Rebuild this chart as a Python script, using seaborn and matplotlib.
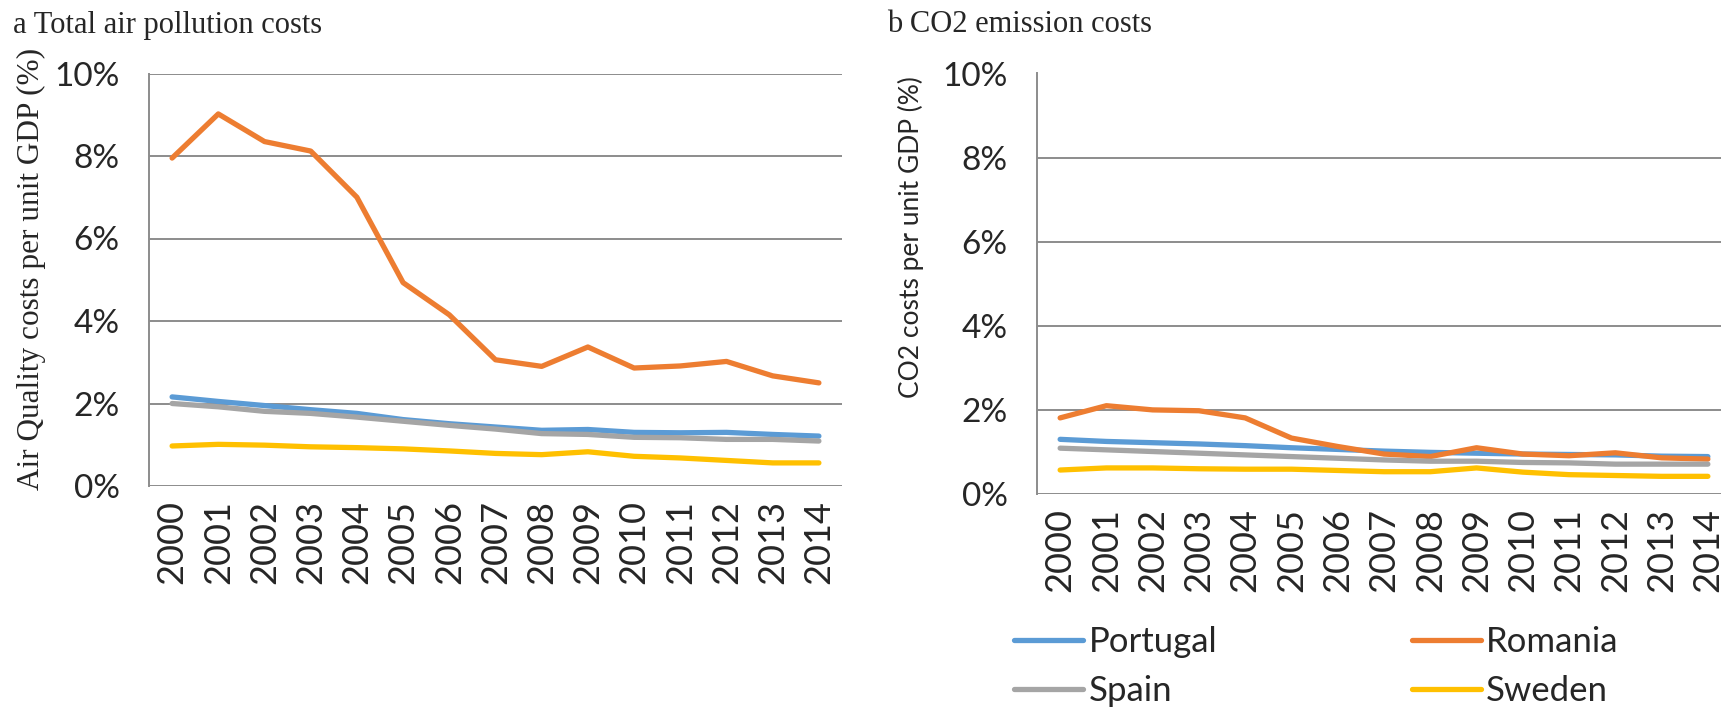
import pandas as pd
import matplotlib
matplotlib.use("Agg")
import matplotlib.pyplot as plt
import seaborn as sns

years = list(range(2000, 2015))
countries = ["Portugal", "Romania", "Spain", "Sweden"]
colores = ["#5B9BD5", "#ED7D31", "#A5A5A5", "#FFC000"]

# a: costes totales de contaminacion del aire (% del PIB)
air_portugal = [2.16, 2.05, 1.95, 1.85, 1.76, 1.61, 1.51, 1.43, 1.35, 1.37, 1.30, 1.29, 1.30, 1.25, 1.21]
air_romania = [7.95, 9.02, 8.35, 8.12, 7.00, 4.93, 4.15, 3.06, 2.90, 3.37, 2.86, 2.91, 3.02, 2.67, 2.50]
air_spain = [2.00, 1.92, 1.81, 1.76, 1.67, 1.57, 1.47, 1.38, 1.27, 1.25, 1.18, 1.17, 1.13, 1.13, 1.09]
air_sweden = [0.97, 1.01, 0.99, 0.95, 0.93, 0.90, 0.85, 0.79, 0.76, 0.83, 0.72, 0.68, 0.62, 0.56, 0.56]

# b: costes de emision de CO2 (% del PIB)
co2_portugal = [1.30, 1.25, 1.22, 1.19, 1.15, 1.10, 1.06, 1.02, 0.99, 0.97, 0.95, 0.94, 0.93, 0.90, 0.89]
co2_romania = [1.81, 2.10, 2.00, 1.98, 1.81, 1.33, 1.13, 0.95, 0.89, 1.10, 0.95, 0.91, 0.98, 0.86, 0.83]
co2_spain = [1.09, 1.05, 1.01, 0.97, 0.93, 0.89, 0.85, 0.81, 0.78, 0.78, 0.75, 0.74, 0.71, 0.71, 0.71]
co2_sweden = [0.57, 0.62, 0.62, 0.60, 0.59, 0.59, 0.56, 0.53, 0.53, 0.62, 0.52, 0.46, 0.44, 0.42, 0.42]

y_ticks = [0, 2, 4, 6, 8, 10]
y_ticklabels = ["0%", "2%", "4%", "6%", "8%", "10%"]


def armar_tabla(series):
    filas = []
    for pais, valores in zip(countries, series):
        for anio, v in zip(years, valores):
            filas.append({"Year": anio, "Country": pais, "Value": v})
    return pd.DataFrame(filas)


air_df = armar_tabla([air_portugal, air_romania, air_spain, air_sweden])
co2_df = armar_tabla([co2_portugal, co2_romania, co2_spain, co2_sweden])

sns.set_style("white")
plt.rcParams["font.family"] = ["Lato", "DejaVu Sans"]

W, H = 1721, 707
fig = plt.figure(figsize=(W / 100, H / 100), dpi=100)
ax1 = fig.add_axes([149 / W, 1 - 486 / H, 693 / W, (486 - 73.5) / H])
ax2 = fig.add_axes([1037 / W, 1 - 494 / H, 694 / W, (494 - 73.5) / H])

for ax, df in [(ax1, air_df), (ax2, co2_df)]:
    sns.lineplot(data=df, x="Year", y="Value", hue="Country", hue_order=countries,
                 palette=colores, linewidth=3.8, legend=False, ax=ax, zorder=3)
    ax.set_xlim(1999.5, 2014.5)
    ax.set_ylim(0, 10)
    ax.set_yticks(y_ticks)
    ax.set_yticklabels(y_ticklabels)
    ax.set_xticks(years)
    ax.set_xticklabels([str(a) for a in years], rotation=90)
    ax.grid(axis="y", color="#8C8C8C", linewidth=1.4)
    ax.set_axisbelow(True)
    for lado in ["top", "right", "bottom"]:
        ax.spines[lado].set_visible(False)
    ax.spines["left"].set_color("#8C8C8C")
    ax.spines["left"].set_linewidth(1.4)
    ax.tick_params(axis="y", length=9, width=1.4, color="#8C8C8C", pad=12, labelsize=24)
    ax.tick_params(axis="x", length=0, pad=10, labelsize=26)
    ax.set_xlabel("")

# el eje izquierdo usa letra con serifa, el derecho no
ax1.set_ylabel("Air Quality costs per unit GDP (%)", fontsize=22.5, family="Liberation Serif")
ax2.set_ylabel("CO2 costs per unit GDP (%)", fontsize=19)
ax1.yaxis.set_label_coords(-0.149, 0.525)
ax2.yaxis.set_label_coords(-0.163, 0.612)

fig.text(13 / W, 1 - 25 / H, "a Total air pollution costs", family="Liberation Serif",
         fontsize=22, va="center", ha="left")
fig.text(887 / W, 1 - 25 / H, "b CO2 emission costs", family="Liberation Serif",
         fontsize=22, va="center", ha="left")

lineas = ax2.get_lines()[:4]
orden = [0, 2, 1, 3]
fig.legend([lineas[i] for i in orden], [countries[i] for i in orden],
           loc="upper left", bbox_to_anchor=(1000 / W, 1 - 612 / H), ncol=2, frameon=False,
           fontsize=25, handlelength=2.0, handletextpad=0.15, columnspacing=5.6,
           labelspacing=0.5, borderaxespad=0)

fig.savefig("out.png", dpi=100)
